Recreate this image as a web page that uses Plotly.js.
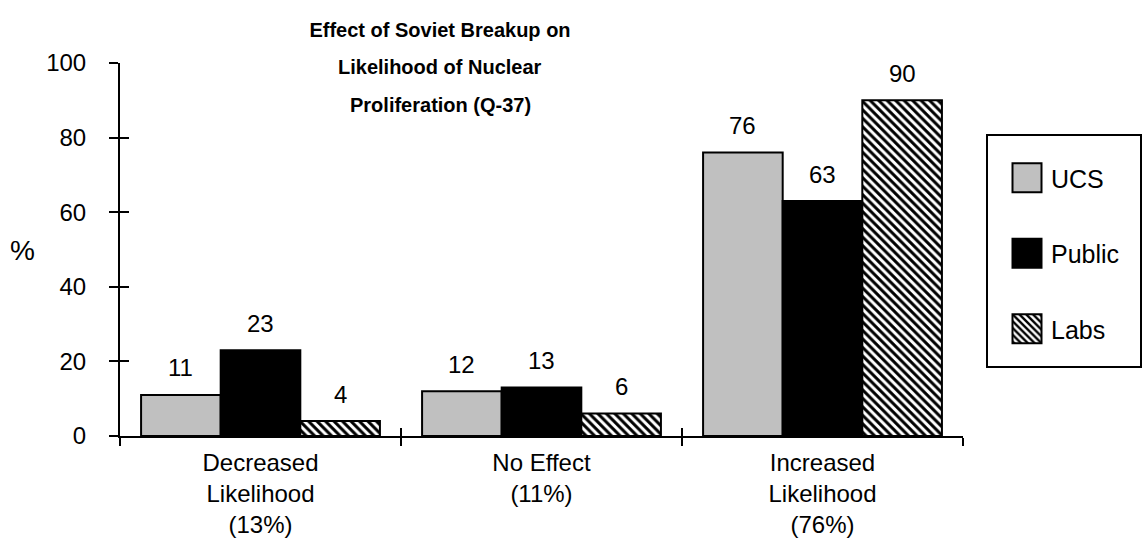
<!DOCTYPE html>
<html>
<head>
<meta charset="utf-8">
<script src="https://cdn.plot.ly/plotly-3.0.1.min.js"></script>
<style>html,body{margin:0;padding:0;background:#fff;}#chart{width:1143px;height:550px;}</style>
</head>
<body>
<div id="chart"></div>
<script>
// ---- data ----
const categories = ["Decreased<br>Likelihood<br>(13%)", "No Effect<br>(11%)", "Increased<br>Likelihood<br>(76%)"];
const seriesNames = ["UCS", "Public", "Labs"];
const ucsValues = [11, 12, 76];
const publicValues = [23, 13, 63];
const labsValues = [4, 6, 90];
const yTickVals = [0, 20, 40, 60, 80, 100];
const titleLines = ["Effect of Soviet Breakup on", "Likelihood of Nuclear", "Proliferation (Q-37)"];

// ---- layout constants ----
const W = 1143, H = 550;
const M = {l: 120, r: 180, t: 63, b: 114};
const plotW = W - M.l - M.r, plotH = H - M.t - M.b;
const BARGAP = 0.15;
const FONT = "Liberation Sans, Arial, sans-serif";
const FS = 24;
const TFS = 20;

const px2paperX = p => (p - M.l) / plotW;
const px2paperY = p => (H - M.b - p) / plotH;

const allSeries = [ucsValues, publicValues, labsValues];
const traces = [
  {type: "bar", name: seriesNames[0], x: categories, y: ucsValues, legendgroup: "a",
   marker: {color: "#c0c0c0", line: {color: "#000", width: 2}}},
  {type: "bar", name: seriesNames[1], x: categories, y: publicValues, legendgroup: "b",
   marker: {color: "#000000", line: {color: "#000", width: 2}}},
  {type: "bar", name: seriesNames[2], x: categories, y: labsValues, legendgroup: "c",
   marker: {color: "#ffffff", line: {color: "#000", width: 2},
            pattern: {shape: "\\", fgcolor: "#000", bgcolor: "#fff", size: 6, solidity: 0.5}}},
  // empty helper trace so the overlay axes (inner half of the crossing ticks) are drawn
  {type: "scatter", mode: "markers", x: [], y: [], xaxis: "x2", yaxis: "y2",
   showlegend: false, hoverinfo: "skip"}
];

// value labels above bars
const catW = plotW / categories.length;
const barW = catW * (1 - BARGAP) / allSeries.length;
const annotations = [];
allSeries.forEach((vals, si) => {
  vals.forEach((v, ci) => {
    annotations.push({
      x: categories[ci], y: v, xref: "x", yref: "y",
      text: String(v), showarrow: false,
      xshift: (si - 1) * barW, yshift: 27, yanchor: "middle",
      font: {family: FONT, size: FS, color: "#000"}
    });
  });
});
// title lines 2 and 3
const titleY = [30, 67, 105];
for (let i = 1; i < titleLines.length; i++) {
  annotations.push({
    x: px2paperX(440), xref: "paper", y: px2paperY(titleY[i]), yref: "paper",
    text: "<b>" + titleLines[i] + "</b>", showarrow: false, xanchor: "center", yanchor: "middle",
    font: {family: FONT, size: TFS, color: "#000"}
  });
}
// "%" axis label
annotations.push({
  x: px2paperX(22), xref: "paper", y: px2paperY(250), yref: "paper", text: "%", showarrow: false,
  xanchor: "center", yanchor: "middle", font: {family: FONT, size: 28, color: "#000"}
});

const layout = {
  width: W, height: H,
  margin: M,
  paper_bgcolor: "#fff", plot_bgcolor: "#fff",
  font: {family: FONT, size: FS, color: "#000"},
  title: {text: "<b>" + titleLines[0] + "</b>", x: 440 / W, xanchor: "center", xref: "container",
          y: 1 - titleY[0] / H, yanchor: "middle", yref: "container",
          font: {family: FONT, size: TFS, color: "#000"}},
  barmode: "group", bargap: BARGAP, bargroupgap: 0,
  showlegend: true,
  legend: {x: px2paperX(1003), y: px2paperY(155), xanchor: "left", yanchor: "top",
           traceorder: "grouped", tracegroupgap: 40, borderwidth: 0, bgcolor: "rgba(0,0,0,0)",
           font: {family: FONT, size: 25, color: "#000"}, itemwidth: 38},
  xaxis: {type: "category", categoryarray: categories, range: [-0.5, 2.5], fixedrange: true,
          showline: true, linecolor: "#000", linewidth: 2, showgrid: false, zeroline: false,
          ticks: "outside", tickson: "boundaries", ticklen: 8, tickwidth: 2, tickcolor: "#000",
          ticklabelstandoff: 4, tickfont: {family: FONT, size: FS, color: "#000"}},
  xaxis2: {type: "linear", overlaying: "x", anchor: "y2", side: "bottom", range: [-0.5, 2.5],
           tickmode: "array", tickvals: [-0.5, 0.5, 1.5, 2.5], showticklabels: false,
           ticks: "inside", ticklen: 8, tickwidth: 2, tickcolor: "#000",
           showline: false, showgrid: false, zeroline: false, fixedrange: true},
  yaxis: {range: [0, 100], tickmode: "array", tickvals: yTickVals, fixedrange: true,
          showline: true, linecolor: "#000", linewidth: 2, showgrid: false, zeroline: false,
          ticks: "outside", ticklen: 9, tickwidth: 2, tickcolor: "#000",
          ticklabelstandoff: 18, tickfont: {family: FONT, size: FS, color: "#000"}},
  yaxis2: {range: [0, 100], overlaying: "y", anchor: "x2", side: "left", tickmode: "array",
           tickvals: yTickVals, showticklabels: false, ticks: "inside", ticklen: 9, tickwidth: 2,
           tickcolor: "#000", showline: false, showgrid: false, zeroline: false, fixedrange: true},
  shapes: [{type: "rect", xref: "paper", yref: "paper",
            x0: px2paperX(987), x1: px2paperX(1141), y0: px2paperY(367), y1: px2paperY(135),
            line: {color: "#000", width: 2}, fillcolor: "rgba(0,0,0,0)", layer: "below"}],
  annotations: annotations
};

Plotly.newPlot("chart", traces, layout, {displayModeBar: false, staticPlot: true}).then(gd => {
  // enlarge the legend swatches to the reference's ~29px squares
  gd.querySelectorAll(".legend .legendpoints path").forEach(p => {
    p.setAttribute("d", "M14.5,14.5H-14.5V-14.5H14.5Z");
  });
});
</script>
</body>
</html>
